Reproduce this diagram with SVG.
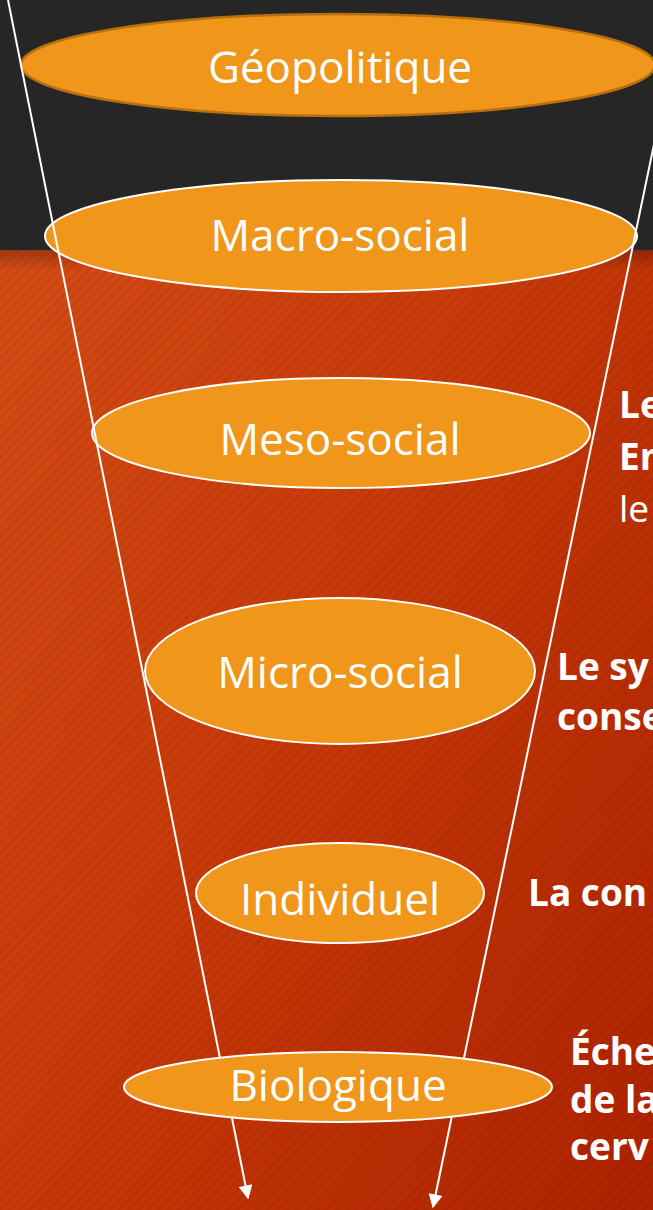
<svg xmlns="http://www.w3.org/2000/svg" width="653" height="1210" viewBox="0 0 653 1210">
  <defs>
    <linearGradient id="bg" x1="0" y1="0" x2="1" y2="1">
      <stop offset="0" stop-color="#D9501A"/>
      <stop offset="0.5" stop-color="#C83A08"/>
      <stop offset="1" stop-color="#AE2200"/>
    </linearGradient>
    <linearGradient id="shadow" x1="0" y1="0" x2="0" y2="1">
      <stop offset="0" stop-color="#000" stop-opacity="0.25"/>
      <stop offset="1" stop-color="#000" stop-opacity="0"/>
    </linearGradient>
    <pattern id="stripes" width="7" height="7" patternUnits="userSpaceOnUse" patternTransform="rotate(45)">
      <rect width="3" height="7" fill="#000" fill-opacity="0.05"/>
    </pattern>
    <marker id="arrow" viewBox="0 0 10 10" refX="9" refY="5" markerWidth="17" markerHeight="14" markerUnits="userSpaceOnUse" orient="auto">
      <path d="M0,0 L10,5 L0,10 Z" fill="#FFFFFF"/>
    </marker>
    <style>
      .node { fill: #F0961A; stroke: #FFFFFF; stroke-width: 2; }
      .top { fill: #F0961A; stroke: #B8700F; stroke-width: 2.5; }
      .label { font-family: "Open Sans", "Noto Sans", sans-serif; font-size: 44px; fill: #FFFFFF; text-anchor: middle; }
      .side { font-family: "Open Sans", "Noto Sans", sans-serif; font-size: 37px; font-weight: bold; fill: #FFFFFF; }
      .sideR { font-family: "Open Sans", "Noto Sans", sans-serif; font-size: 37px; fill: #FFFFFF; }
      .conn { stroke: #FFFFFF; stroke-width: 2; fill: none; }
    </style>
  </defs>

  <g id="background">
    <rect x="0" y="0" width="653" height="1210" fill="url(#bg)"/>
    <rect x="0" y="250" width="653" height="960" fill="url(#stripes)"/>
    <rect x="0" y="250" width="653" height="20" fill="url(#shadow)"/>
    <rect x="0" y="0" width="653" height="250" fill="#262626"/>
  </g>

  <g id="geopolitique">
    <ellipse class="top" cx="338" cy="65" rx="317" ry="51"/>
    <text class="label" x="340" y="83" font-size="46">Géopolitique</text>
  </g>

  <g id="macro-social">
    <ellipse class="node" cx="341" cy="236" rx="296" ry="56"/>
    <text class="label" x="340" y="251">Macro-social</text>
  </g>

  <g id="meso-social">
    <ellipse class="node" cx="341" cy="433" rx="249" ry="55"/>
    <text class="label" x="340" y="455">Meso-social</text>
    <text class="side" x="619" y="418">Le</text>
    <text class="side" x="619" y="470">En</text>
    <text class="sideR" x="619" y="522">le</text>
  </g>

  <g id="micro-social">
    <ellipse class="node" cx="340" cy="671" rx="195" ry="73"/>
    <text class="label" x="340" y="688">Micro-social</text>
    <text class="side" x="557" y="680">Le sy</text>
    <text class="side" x="557" y="730">conse</text>
  </g>

  <g id="individuel">
    <ellipse class="node" cx="340" cy="893" rx="144" ry="50"/>
    <text class="label" x="340" y="915">Individuel</text>
    <text class="side" x="528" y="906">La con</text>
  </g>

  <g id="connectors">
    <line class="conn" x1="8" y1="0" x2="248" y2="1198" marker-end="url(#arrow)"/>
    <line class="conn" x1="684" y1="0" x2="433" y2="1207" marker-end="url(#arrow)"/>
  </g>

  <g id="biologique">
    <ellipse class="node" cx="338" cy="1087" rx="214" ry="35"/>
    <text class="label" x="338" y="1101">Biologique</text>
    <text class="side" x="570" y="1065">Éche</text>
    <text class="side" x="570" y="1113">de la</text>
    <text class="side" x="570" y="1160">cerv</text>
  </g>
</svg>
